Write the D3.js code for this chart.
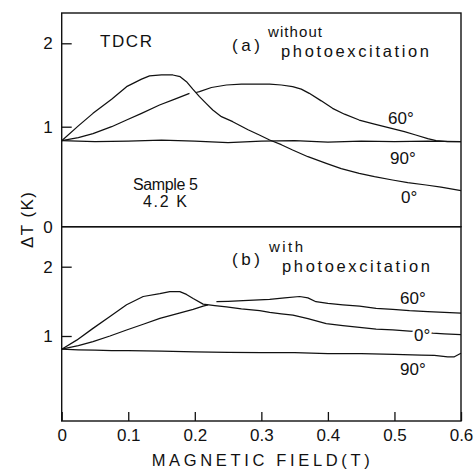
<!DOCTYPE html>
<html>
<head>
<meta charset="utf-8">
<script src="https://cdn.jsdelivr.net/npm/d3@7"></script>
<style>
  body { margin: 0; background: #fff; }
  svg text { font-family: "Liberation Sans", Arial, sans-serif; fill: #111; }
</style>
</head>
<body>
<div id="chart"></div>
<script>
// panel (a): without photoexcitation
const a0_field = [0, 0.025, 0.047, 0.075, 0.0975, 0.12, 0.132, 0.15, 0.167, 0.178, 0.1875, 0.197, 0.207, 0.217, 0.227, 0.24, 0.257, 0.28, 0.297, 0.3125, 0.33, 0.347, 0.37, 0.3975, 0.42, 0.447, 0.47, 0.497, 0.52, 0.5475, 0.57, 0.6];
const a0_dT = [0.86, 1.01, 1.16, 1.33, 1.48, 1.57, 1.61, 1.62, 1.62, 1.60, 1.54, 1.45, 1.36, 1.28, 1.20, 1.12, 1.06, 0.97, 0.917, 0.867, 0.82, 0.767, 0.70, 0.633, 0.58, 0.533, 0.50, 0.467, 0.44, 0.417, 0.395, 0.36];

const a60_field = [0, 0.025, 0.047, 0.075, 0.0975, 0.12, 0.147, 0.17, 0.192, 0.197, 0.202, 0.207, 0.225, 0.2475, 0.27, 0.3125, 0.33, 0.347, 0.36, 0.372, 0.39, 0.407, 0.425, 0.447, 0.47, 0.497, 0.515, 0.532, 0.55, 0.5625, 0.58, 0.6];
const a60_dT = [0.86, 0.89, 0.93, 1.00, 1.08, 1.16, 1.26, 1.33, 1.40, null, 1.41, 1.42, 1.47, 1.50, 1.51, 1.51, 1.50, 1.48, 1.45, 1.40, 1.31, 1.22, 1.15, 1.08, 1.03, 0.98, 0.95, 0.917, 0.88, 0.86, 0.85, 0.85];

const a90_field = [0, 0.05, 0.1, 0.15, 0.2, 0.25, 0.3, 0.35, 0.4, 0.45, 0.5, 0.55, 0.6];
const a90_dT = [0.86, 0.85, 0.855, 0.865, 0.855, 0.84, 0.855, 0.86, 0.845, 0.855, 0.85, 0.855, 0.85];

// panel (b): with photoexcitation
const b0_field = [0, 0.0225, 0.047, 0.0725, 0.0975, 0.1225, 0.1475, 0.1625, 0.1775, 0.1875, 0.1975, 0.2125, 0.23, 0.2475, 0.27, 0.2975, 0.3125, 0.33, 0.3475, 0.37, 0.3975, 0.4225, 0.4475, 0.4725, 0.4975, 0.5225, 0.54, 0.5575, 0.575, 0.6];
const b0_dT = [0.81, 0.94, 1.11, 1.28, 1.45, 1.57, 1.61, 1.64, 1.64, 1.60, 1.54, 1.46, 1.44, 1.42, 1.39, 1.365, 1.34, 1.32, 1.30, 1.25, 1.18, 1.15, 1.125, 1.10, 1.087, 1.07, 1.06, 1.04, 1.03, 1.02];

const b60_field = [0, 0.025, 0.047, 0.0725, 0.0975, 0.1225, 0.1475, 0.1725, 0.1975, 0.2125, 0.22, 0.226, 0.2325, 0.25, 0.2725, 0.3125, 0.335, 0.3575, 0.37, 0.382, 0.40, 0.4225, 0.4475, 0.4725, 0.4975, 0.5225, 0.55, 0.575, 0.6];
const b60_dT = [0.81, 0.86, 0.92, 1.00, 1.087, 1.17, 1.255, 1.32, 1.385, 1.43, 1.45, null, 1.495, 1.50, 1.51, 1.53, 1.55, 1.57, 1.55, 1.495, 1.47, 1.45, 1.43, 1.40, 1.385, 1.365, 1.35, 1.34, 1.33];

const b90_field = [0, 0.025, 0.05, 0.075, 0.1, 0.15, 0.2, 0.25, 0.3, 0.35, 0.4, 0.45, 0.5, 0.54, 0.56, 0.58, 0.59, 0.6];
const b90_dT = [0.81, 0.80, 0.795, 0.79, 0.79, 0.78, 0.77, 0.765, 0.76, 0.76, 0.745, 0.745, 0.735, 0.725, 0.72, 0.70, 0.70, 0.75];

const x_ticks = [0, 0.1, 0.2, 0.3, 0.4, 0.5, 0.6];
const a_ticks = [0, 1, 2];
const b_ticks = [1, 2];

const width = 476, height = 470;
const left = 61.7, right = 461;

const svg = d3.select("#chart")
    .append("svg")
    .attr("width", width)
    .attr("height", height);

const x = d3.scaleLinear().domain([0, 0.6]).range([left, right]);
// the scanned axes are not quite linear, so the panel scales are piecewise
const yA = d3.scaleLinear().domain([0, 1, 2, 2.36]).range([226.7, 126.7, 43.3, 13]);
const yB = d3.scaleLinear().domain([-0.227, 1, 2, 2.577]).range([421, 336, 266.7, 226.7]);

function drawLine(field, dT, y) {
    const pts = field.map((f, i) => [f, dT[i]]);
    svg.append("path")
        .datum(pts)
        .attr("fill", "none")
        .attr("stroke", "#111")
        .attr("stroke-width", 1.25)
        .attr("stroke-linejoin", "round")
        .attr("d", d3.line()
            .defined(d => d[1] != null)
            .x(d => x(d[0]))
            .y(d => y(d[1])));
}

drawLine(a90_field, a90_dT, yA);
drawLine(a60_field, a60_dT, yA);
drawLine(a0_field, a0_dT, yA);
drawLine(b90_field, b90_dT, yB);
drawLine(b60_field, b60_dT, yB);
drawLine(b0_field, b0_dT, yB);

// frames
svg.append("rect")
    .attr("x", left).attr("y", yA(2.36))
    .attr("width", right - left).attr("height", yA(0) - yA(2.36))
    .attr("fill", "none").attr("stroke", "#111").attr("stroke-width", 1.4);
svg.append("rect")
    .attr("x", left).attr("y", yB(2.577))
    .attr("width", right - left).attr("height", yB(-0.227) - yB(2.577))
    .attr("fill", "none").attr("stroke", "#111").attr("stroke-width", 1.4);

// axes
function styleAxis(g, size) {
    g.select(".domain").remove();
    g.selectAll("line").attr("stroke", "#111").attr("stroke-width", 1.3);
    g.selectAll("text").attr("fill", "#111").style("font-size", size + "px")
        .style("font-family", '"Liberation Sans", Arial, sans-serif');
}

svg.append("g")
    .attr("transform", `translate(${left}, 0)`)
    .call(d3.axisLeft(yA).tickValues(a_ticks).tickSize(-10).tickPadding(9).tickFormat(d3.format("d")))
    .call(g => styleAxis(g, 17))
    .call(g => g.selectAll(".tick").filter(d => d === 0).select("line").remove());

svg.append("g")
    .attr("transform", `translate(${left}, 0)`)
    .call(d3.axisLeft(yB).tickValues(b_ticks).tickSize(-10).tickPadding(9).tickFormat(d3.format("d")))
    .call(g => styleAxis(g, 17));

svg.append("g")
    .attr("transform", `translate(0, ${yB(-0.227)})`)
    .call(d3.axisBottom(x).tickValues(x_ticks).tickSize(-9).tickPadding(8)
        .tickFormat(d => d === 0 ? "0" : d.toFixed(1)))
    .call(g => styleAxis(g, 17));

// labels
function label(txt, px, py, size, len, halo) {
    const t = svg.append("text")
        .attr("x", px).attr("y", py)
        .style("font-size", size + "px")
        .text(txt);
    if (len) t.attr("textLength", len).attr("lengthAdjust", "spacing");
    if (halo) t.attr("stroke", "#fff").attr("stroke-width", 5).attr("paint-order", "stroke");
    return t;
}

label("TDCR", 100, 47, 17, 52);
label("(a)", 232, 51, 17, 28);
label("without", 268, 37, 15, 54);
label("photoexcitation", 281, 57, 16.5, 148);
label("60°", 388, 124, 17);
label("90°", 390, 164, 17);
label("0°", 401, 203, 17);
label("Sample 5", 133, 190, 16, 65);
label("4.2 K", 143, 207, 16, 44);

label("(b)", 232, 265, 17, 28);
label("with", 269, 252, 15, 34);
label("photoexcitation", 282, 272, 16.5, 148);
label("60°", 400, 304, 17);
label("0°", 414, 341, 17, null, true);
label("90°", 400, 375, 17);

svg.append("text")
    .attr("transform", "translate(33, 220) rotate(-90)")
    .attr("text-anchor", "middle")
    .style("font-size", "17px")
    .attr("textLength", 56)
    .attr("lengthAdjust", "spacing")
    .text("ΔT (K)");

svg.append("text")
    .attr("x", 151.7).attr("y", 466)
    .style("font-size", "16.5px")
    .attr("textLength", 218)
    .attr("lengthAdjust", "spacing")
    .text("MAGNETIC  FIELD(T)");
</script>
</body>
</html>
